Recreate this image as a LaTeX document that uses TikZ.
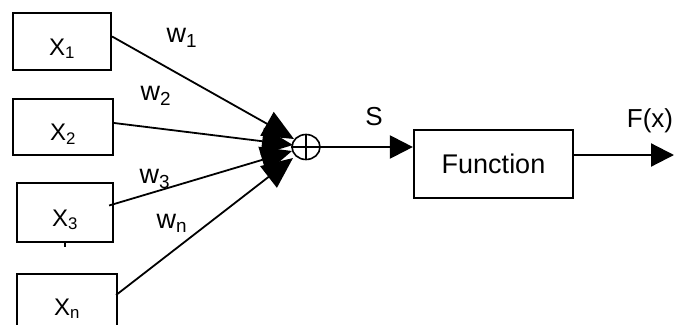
\documentclass[tikz,border=0pt]{standalone}
\usepackage{fontspec}
\setmainfont{Liberation Sans}
\usetikzlibrary{arrows.meta,shapes.geometric,calc}
\begin{document}
\begin{tikzpicture}[x=1pt,y=-1pt,
  inbox/.style={draw,line width=2.2pt,minimum width=98pt,minimum height=57pt,inner sep=0pt,
    font=\fontsize{24}{26}\selectfont,text height=27pt,text depth=0pt},
  wlabel/.style={font=\fontsize{27}{29}\selectfont,inner sep=0pt},
  inline/.style={line width=1.8pt,-{Triangle[length=31pt,width=27pt]}},
  outline/.style={line width=2.2pt,-{Triangle[length=23pt,width=23pt]}}]
\useasboundingbox (0,0) rectangle (674,324);
\clip (0,0) rectangle (674,324);
% input boxes
\node[inbox] (x1) at (62,41.5) {X\textsubscript{1}};
\node[inbox,minimum width=100pt,minimum height=56pt] (x2) at (63,127) {X\textsubscript{2}};
\node[inbox,minimum width=96pt,minimum height=59pt] (x3) at (65,212.5) {X\textsubscript{3}};
\node[inbox,minimum width=100pt,minimum height=62pt,text height=20pt] (xn) at (67,305) {X\textsubscript{n}};
\draw[line width=1.4pt] (x3.south) -- ++(0,4);
% summing junction
\node[draw,ellipse,line width=1.6pt,minimum width=28pt,minimum height=25pt,inner sep=0pt] (sum) at (306,147) {};
\draw[line width=1.6pt] (sum.north) -- (sum.south) (sum.west) -- (sum.east);
% arrow tips
\coordinate (t1) at (294,139);
\coordinate (t2) at (293,145);
\coordinate (t3) at (292,151);
\coordinate (t4) at (293,158);
\draw[inline] ([yshift=5pt]x1.east) -- (t1);
\draw[inline] ([yshift=4pt]x2.east) -- (t2);
\draw[inline] ([xshift=-5pt,yshift=7pt]x3.east) -- (t3);
\draw[inline] ([xshift=-2pt,yshift=10pt]xn.east) -- (t4);
% weights
\node[wlabel] (w1) at (182,38) {w\textsubscript{1}};
\node[wlabel] (w2) at (156,96) {w\textsubscript{2}};
\node[wlabel] (w3) at (155,179) {w\textsubscript{3}};
\node[wlabel] (wn) at (172,223) {w\textsubscript{n}};
% function block
\node[draw,line width=2.2pt,minimum width=159pt,minimum height=68pt,inner sep=0pt,
  font=\fontsize{27}{29}\selectfont] (fn) at (493.5,164) {Function};
\draw[outline] (sum.east) -- (sum.east -| fn.west);
\node[wlabel,font=\fontsize{26}{28}\selectfont] (s) at (374,117) {S};
\coordinate (out) at (674,155);
\draw[outline] (fn.east |- out) -- (out);
\node[wlabel,font=\fontsize{26}{28}\selectfont] (fx) at (650,121) {F(x)};
\end{tikzpicture}
\end{document}
